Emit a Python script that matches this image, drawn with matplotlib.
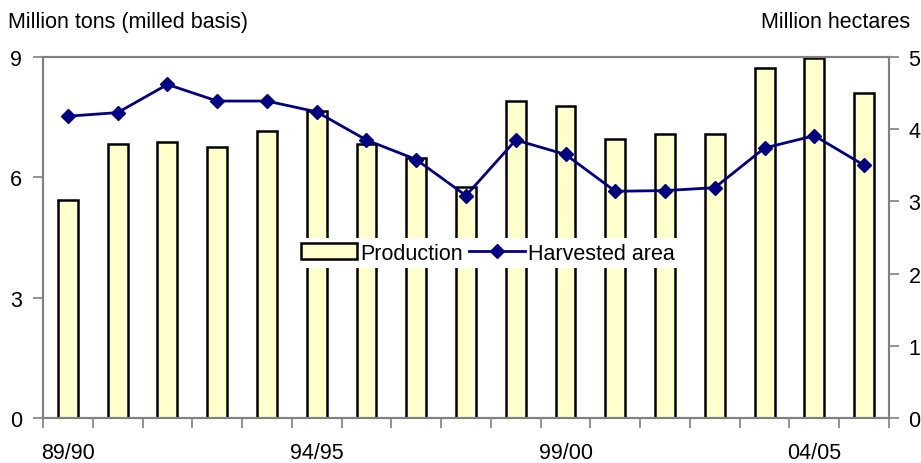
import numpy as np
import matplotlib
matplotlib.use('Agg')
import matplotlib.pyplot as plt

plt.rcParams['font.family'] = ['Liberation Sans', 'DejaVu Sans']

# === Data: rice production and harvested area by marketing year ===
years = ['89/90', '90/91', '91/92', '92/93', '93/94', '94/95', '95/96', '96/97',
         '97/98', '98/99', '99/00', '00/01', '01/02', '02/03', '03/04', '04/05', '05/06']
production = [5.44, 6.82, 6.88, 6.75, 7.16, 7.66, 6.84, 6.49, 5.77, 7.90,
              7.78, 6.95, 7.08, 7.07, 8.73, 8.98, 8.11]
harvested_area = [4.18, 4.23, 4.62, 4.39, 4.39, 4.24, 3.85, 3.58, 3.08, 3.85,
                  3.65, 3.14, 3.15, 3.19, 3.74, 3.91, 3.50]
shown_labels = ['89/90', '94/95', '99/00', '04/05']

FS = 15.5
GRAY = '#808080'

fig = plt.figure(figsize=(9.21, 4.64), dpi=100)
ax = fig.add_axes([43 / 921, 1 - 419 / 464, (889 - 43) / 921, (419 - 58) / 464])
ax2 = ax.twinx()

x = np.arange(len(years))
bars = ax.bar(x, production, width=0.4, color='#FFFFCC', edgecolor='black',
              linewidth=1.8, label='Production', zorder=2)
line, = ax2.plot(x, harvested_area, color='#000080', linewidth=2, marker='D',
                 markersize=7.5, label='Harvested area', zorder=3)

ax.set_xlim(-0.5, len(years) - 0.5)
ax.set_ylim(0, 9)
ax2.set_ylim(0, 5)
ax.set_yticks([0, 3, 6, 9])
ax2.set_yticks([0, 1, 2, 3, 4, 5])

# category labels every 5 years, tick marks between categories
ax.set_xticks([years.index(s) for s in shown_labels])
ax.set_xticklabels(shown_labels)
ax.set_xticks(np.arange(-0.5, len(years)), minor=True)
ax.tick_params(axis='x', which='major', length=0, pad=17, labelsize=FS)
ax.tick_params(axis='x', which='minor', length=7, width=1.2, color=GRAY)
ax.tick_params(axis='y', length=7, width=1.2, color=GRAY, pad=8, labelsize=FS)
ax2.tick_params(axis='y', length=7, width=1.2, color=GRAY, pad=7, labelsize=FS)

for a in (ax, ax2):
    for sp in a.spines.values():
        sp.set_color(GRAY)
        sp.set_linewidth(1.5)

fig.text(8 / 921, 1 - 28 / 464, 'Million tons (milled basis)', fontsize=FS,
         ha='left', va='baseline')
fig.text(910 / 921, 1 - 28 / 464, 'Million hectares', fontsize=FS,
         ha='right', va='baseline')

leg = fig.legend(handles=[bars, line], loc='center', ncol=2,
                 bbox_to_anchor=(488 / 921, 1 - 254 / 464), fontsize=FS,
                 frameon=True, fancybox=False, edgecolor='none',
                 facecolor='white', framealpha=1, handlelength=2.6,
                 handletextpad=0.15, columnspacing=0.3, borderpad=0.2,
                 borderaxespad=0)

fig.savefig('out.png', dpi=100)
